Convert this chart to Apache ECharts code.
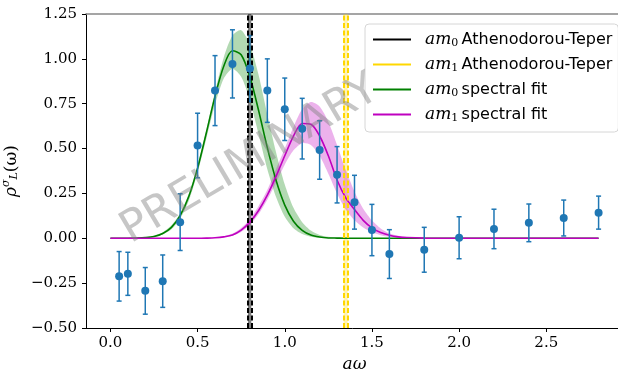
<!DOCTYPE html>
<html>
<head>
<meta charset="utf-8">
<script src="https://cdn.jsdelivr.net/npm/echarts@6/dist/echarts.min.js"></script>
<style>
  html, body { margin: 0; padding: 0; background: #fff; }
  #chart { width: 618px; height: 371px; }
</style>
</head>
<body>
<div id="chart"></div>
<script>
// lattice points with errors
const omega = [0.05, 0.1, 0.2, 0.3, 0.4, 0.5, 0.6, 0.7, 0.8, 0.9, 1.0, 1.1, 1.2, 1.3, 1.4, 1.5, 1.6, 1.8, 2.0, 2.2, 2.4, 2.6, 2.8];
const rho = [-0.212, -0.198, -0.293, -0.239, 0.09, 0.517, 0.823, 0.972, 0.946, 0.823, 0.719, 0.611, 0.492, 0.354, 0.201, 0.046, -0.088, -0.064, 0.003, 0.052, 0.086, 0.113, 0.143];
const rhoErr = [0.138, 0.12, 0.13, 0.146, 0.158, 0.18, 0.195, 0.19, 0.184, 0.177, 0.174, 0.169, 0.163, 0.157, 0.15, 0.143, 0.136, 0.125, 0.117, 0.11, 0.105, 0.1, 0.092];

// spectral fit curves
const curveW = [0, 0.1, 0.15, 0.2, 0.25, 0.3, 0.35, 0.4, 0.45, 0.5, 0.55, 0.6, 0.65, 0.7, 0.75, 0.8, 0.85, 0.9, 0.95, 1.0, 1.05, 1.1, 1.15, 1.2, 1.25, 1.3, 1.35, 1.4, 1.45, 1.5, 1.55, 1.6, 1.65, 1.7, 1.8, 2.0, 2.4, 2.8];
const greenMid = [0, 0.0003, 0.0012, 0.0036, 0.01, 0.027, 0.061, 0.126, 0.234, 0.391, 0.587, 0.791, 0.959, 1.045, 1.023, 0.9, 0.712, 0.505, 0.323, 0.185, 0.095, 0.044, 0.018, 0.007, 0.002, 0.001, 0, 0, 0, 0, 0, 0, 0, 0, 0, 0, 0, 0];
const greenHi = [0, 0.001, 0.002, 0.0055, 0.014, 0.033, 0.072, 0.14, 0.25, 0.406, 0.603, 0.816, 1.008, 1.13, 1.16, 1.08, 0.91, 0.69, 0.48, 0.3, 0.17, 0.09, 0.043, 0.019, 0.008, 0.003, 0.001, 0, 0, 0, 0, 0, 0, 0, 0, 0, 0, 0];
const greenLo = [0, 0, 0.0005, 0.0024, 0.0075, 0.021, 0.05, 0.109, 0.21, 0.365, 0.555, 0.745, 0.89, 0.945, 0.9, 0.77, 0.58, 0.385, 0.23, 0.12, 0.056, 0.024, 0.009, 0.003, 0.0008, 0, 0, 0, 0, 0, 0, 0, 0, 0, 0, 0, 0, 0];
const purpleMid = [0, 0, 0, 0, 0, 0, 0, 0, 0, 0, 0.001, 0.003, 0.008, 0.018, 0.045, 0.09, 0.155, 0.24, 0.345, 0.46, 0.57, 0.64, 0.635, 0.57, 0.46, 0.325, 0.225, 0.16, 0.1, 0.058, 0.032, 0.017, 0.008, 0.004, 0.001, 0, 0, 0];
const purpleHi = [0, 0, 0, 0, 0, 0, 0, 0, 0, 0, 0.002, 0.005, 0.012, 0.026, 0.058, 0.108, 0.18, 0.27, 0.385, 0.5, 0.62, 0.72, 0.76, 0.735, 0.65, 0.52, 0.38, 0.26, 0.165, 0.1, 0.055, 0.028, 0.014, 0.007, 0.001, 0, 0, 0];
const purpleLo = [0, 0, 0, 0, 0, 0, 0, 0, 0, 0, 0, 0.002, 0.006, 0.014, 0.035, 0.075, 0.135, 0.215, 0.31, 0.41, 0.49, 0.53, 0.52, 0.46, 0.36, 0.25, 0.16, 0.1, 0.06, 0.033, 0.017, 0.008, 0.004, 0.002, 0, 0, 0, 0];

// Athenodorou-Teper masses
const am0 = 0.7985, am0Err = 0.0095;
const am1 = 1.3495, am1Err = 0.0115;

const xTicks = [0, 0.5, 1.0, 1.5, 2.0, 2.5];
const yTicks = [-0.5, -0.25, 0, 0.25, 0.5, 0.75, 1.0, 1.25];

const legendText = {
  "am0 AT": ["0", "Athenodorou-Teper"],
  "am1 AT": ["1", "Athenodorou-Teper"],
  "am0 fit": ["0", "spectral fit"],
  "am1 fit": ["1", "spectral fit"],
};

const pairs = (xs, ys) => xs.map((x, i) => [x, ys[i]]);

const chart = echarts.init(document.getElementById("chart"), null, { renderer: "canvas" });

const serif = "DejaVu Serif";

// filled band between lo and hi, drawn as one polygon
const bandSeries = (name, lo, hi, color) => ({
  name: name,
  type: "custom",
  data: [[curveW[0], lo[0]]],
  silent: true,
  z: 1,
  renderItem: (params, api) => {
    const top = curveW.map((w, i) => api.coord([w, hi[i]]));
    const bottom = curveW.map((w, i) => api.coord([w, lo[i]])).reverse();
    return {
      type: "polygon",
      shape: { points: top.concat(bottom), smooth: 0.25 },
      style: { fill: color },
    };
  },
});

const vline = (name, center, err, color, fill) => ({
  name: name,
  type: "line",
  data: [],
  symbol: "none",
  itemStyle: { color: color },
  lineStyle: { color: color, width: 2 },
  markArea: {
    silent: true,
    itemStyle: { color: fill },
    data: [[{ xAxis: center - err }, { xAxis: center + err }]],
  },
  markLine: {
    silent: true,
    symbol: ["none", "none"],
    label: { show: false },
    lineStyle: { color: color, type: [5, 2.5], width: 2 },
    data: [{ xAxis: center - err }, { xAxis: center + err }],
  },
  z: 3,
});

const option = {
  animation: false,
  grid: { left: 86, top: 14, right: -5, bottom: 43, outerBoundsMode: "none", containLabel: false },
  legend: {
    data: ["am0 AT", "am1 AT", "am0 fit", "am1 fit"],
    orient: "vertical",
    left: 365,
    top: 24,
    padding: [7, 6, 8, 8],
    icon: "rect",
    itemWidth: 38,
    itemHeight: 2,
    itemGap: 7,
    backgroundColor: "rgba(255,255,255,0.85)",
    borderColor: "#d6d6d6",
    borderWidth: 1,
    borderRadius: 4,
    formatter: (name) => {
      const t = legendText[name];
      return "{m|am}{s|" + t[0] + "} {t|" + t[1] + "}";
    },
    textStyle: {
      padding: [0, 0, 0, 9],
      rich: {
        m: { fontFamily: serif, fontStyle: "italic", fontSize: 17, color: "#000" },
        s: { fontFamily: serif, fontSize: 11, padding: [8, 0, 0, 0], color: "#000" },
        t: { fontFamily: "DejaVu Sans", fontSize: 16, color: "#000" },
      },
    },
  },
  xAxis: [
    {
      type: "value",
      min: -0.14,
      max: 2.94,
      name: "aω",
      nameLocation: "middle",
      nameGap: 27,
      nameTextStyle: { fontFamily: serif, fontStyle: "italic", fontSize: 17, color: "#000" },
      axisLine: { onZero: false, lineStyle: { color: "#000", width: 1 } },
      axisTick: { inside: false, length: 4, customValues: xTicks, lineStyle: { color: "#000" } },
      axisLabel: {
        margin: 8,
        customValues: xTicks,
        formatter: (v) => v.toFixed(1),
        fontFamily: serif,
        fontSize: 15,
        color: "#000",
      },
      splitLine: { show: false },
    },
    {
      type: "value",
      position: "top",
      min: -0.14,
      max: 2.94,
      axisLine: { onZero: false, lineStyle: { color: "#888", width: 1.6 } },
      axisTick: { show: false },
      axisLabel: { show: false },
      splitLine: { show: false },
    },
  ],
  yAxis: {
    type: "value",
    min: -0.5,
    max: 1.25,
    interval: 0.25,
    name: "{r|ρ}{u|σ}{l|L}{p|(ω)}",
    nameLocation: "middle",
    nameGap: 64,
    nameRotate: 90,
    nameTextStyle: {
      rich: {
        r: { fontFamily: serif, fontStyle: "italic", fontSize: 17, color: "#000" },
        u: { fontFamily: serif, fontStyle: "italic", fontSize: 11, padding: [0, 0, 9, 0], color: "#000" },
        l: { fontFamily: serif, fontStyle: "italic", fontSize: 11, padding: [7, 0, 0, 0], color: "#000" },
        p: { fontFamily: serif, fontSize: 17, color: "#000" },
      },
    },
    axisLine: { show: true, onZero: false, lineStyle: { color: "#000", width: 1 } },
    axisTick: { show: true, inside: false, length: 4, lineStyle: { color: "#000" } },
    axisLabel: {
      margin: 9,
      formatter: (v) => v.toFixed(2).replace("-", "\u2212"),
      fontFamily: serif,
      fontSize: 15,
      color: "#000",
    },
    splitLine: { show: false },
  },
  graphic: [
    {
      type: "text",
      x: 250,
      y: 160,
      rotation: (30.5 * Math.PI) / 180,
      z: 100,
      silent: true,
      style: {
        text: "PRELIMINARY",
        font: '44px "DejaVu Sans"',
        fill: "rgba(128,128,128,0.45)",
        textAlign: "center",
        textVerticalAlign: "middle",
        align: "center",
        verticalAlign: "middle",
      },
    },
  ],
  series: [
    bandSeries("am0 band", greenLo, greenHi, "rgba(0,128,0,0.3)"),
    bandSeries("am1 band", purpleLo, purpleHi, "rgba(191,0,191,0.3)"),
    vline("am0 AT", am0, am0Err, "#000", "rgba(0,0,0,0.5)"),
    vline("am1 AT", am1, am1Err, "#ffd700", "rgba(255,215,0,0.3)"),
    {
      name: "am0 fit",
      type: "line",
      data: pairs(curveW, greenMid),
      smooth: 0.3,
      symbol: "none",
      itemStyle: { color: "#008000" },
      lineStyle: { color: "#008000", width: 1.6 },
      z: 2,
    },
    {
      name: "am1 fit",
      type: "line",
      data: pairs(curveW, purpleMid),
      smooth: 0.3,
      symbol: "none",
      itemStyle: { color: "#bf00bf" },
      lineStyle: { color: "#bf00bf", width: 1.6 },
      z: 2,
    },
    {
      name: "errors",
      type: "custom",
      data: omega.map((w, i) => [w, rho[i], rhoErr[i]]),
      renderItem: (params, api) => {
        const x = api.value(0), y = api.value(1), e = api.value(2);
        const top = api.coord([x, y + e]);
        const bot = api.coord([x, y - e]);
        const st = { stroke: "#1f77b4", lineWidth: 1.5 };
        return {
          type: "group",
          children: [
            { type: "line", shape: { x1: top[0], y1: top[1], x2: bot[0], y2: bot[1] }, style: st },
            { type: "line", shape: { x1: top[0] - 2.5, y1: top[1], x2: top[0] + 2.5, y2: top[1] }, style: st },
            { type: "line", shape: { x1: bot[0] - 2.5, y1: bot[1], x2: bot[0] + 2.5, y2: bot[1] }, style: st },
          ],
        };
      },
      z: 4,
    },
    {
      name: "points",
      type: "scatter",
      data: pairs(omega, rho),
      symbolSize: 8,
      itemStyle: { color: "#1f77b4", opacity: 1 },
      z: 5,
    },
  ],
};

chart.setOption(option);
</script>
</body>
</html>
